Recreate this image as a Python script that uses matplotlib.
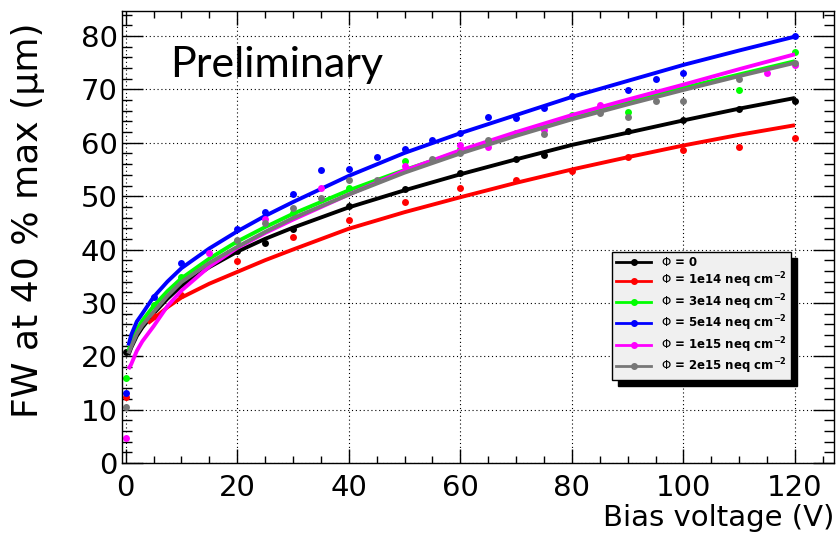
import matplotlib
matplotlib.use("Agg")
import matplotlib.pyplot as plt
from matplotlib.lines import Line2D
from matplotlib.ticker import MultipleLocator

plt.rcParams['font.family'] = ['DejaVu Sans']
plt.rcParams['mathtext.fontset'] = 'dejavusans'

# bias voltages where the fitted curves are sampled
fit_v = [0.5, 1, 2, 3, 5, 7.5, 10, 15, 20, 25, 30, 40, 50, 60, 70, 80, 90, 100, 110, 120]
red_fit_v = [4, 5, 7.5, 10, 15, 20, 25, 30, 40, 50, 60, 70, 80, 90, 100, 110, 120]

# fitted curves (FW in um)
black_fit = [20.2, 21.6, 23.8, 25.4, 28.0, 30.8, 33.2, 36.7, 39.6, 42.0, 44.1, 47.9, 51.1, 54.1, 56.9, 59.6, 61.9, 64.2, 66.4, 68.4]
red_fit = [26.2, 27.0, 29.2, 31.0, 33.6, 35.8, 38.0, 40.0, 43.9, 47.0, 49.8, 52.5, 55.0, 57.3, 59.5, 61.5, 63.3]
green_fit = [21.0, 22.6, 25.0, 26.7, 29.4, 32.2, 34.6, 38.3, 41.5, 44.2, 46.7, 51.1, 54.9, 58.4, 61.6, 64.8, 67.6, 70.3, 72.8, 75.3]
blue_fit = [22.0, 24.0, 26.5, 28.0, 31.1, 34.0, 36.5, 40.2, 43.4, 46.3, 48.9, 53.8, 58.1, 61.8, 65.2, 68.6, 71.6, 74.6, 77.3, 79.9]
magenta_fit = [17.6, 18.5, 21.0, 22.8, 25.6, 29.4, 32.3, 36.8, 40.3, 43.1, 45.6, 50.3, 54.8, 58.6, 62.0, 65.2, 68.1, 70.9, 73.8, 76.6]
gray_fit = [20.5, 21.8, 24.2, 25.8, 28.3, 31.3, 33.9, 37.5, 40.5, 43.3, 45.9, 50.3, 54.4, 58.0, 61.3, 64.4, 67.2, 69.9, 72.5, 75.0]

# measured points
black_pts_v = [0, 10, 20, 25, 30, 40, 50, 60, 70, 75, 90, 100, 110, 120]
black_pts = [20.8, 33.5, 39.8, 41.2, 43.8, 48.1, 51.3, 54.3, 57.0, 57.8, 62.3, 64.3, 66.4, 67.9]
red_pts_v = [0, 5, 10, 20, 30, 40, 50, 60, 70, 80, 90, 100, 110, 120]
red_pts = [12.4, 27.5, 31.4, 37.8, 42.4, 45.5, 48.9, 51.5, 53.1, 54.7, 57.4, 58.6, 59.2, 60.9]
green_pts_v = [0, 5, 10, 20, 30, 40, 50, 60, 70, 80, 90, 110, 120]
green_pts = [16.0, 29.6, 34.8, 41.6, 46.8, 51.5, 56.6, 58.8, 61.8, 65.3, 65.7, 69.9, 77.1]
blue_pts_v = [0, 5, 10, 20, 25, 30, 35, 40, 45, 50, 55, 60, 65, 70, 75, 80, 90, 95, 100, 120]
blue_pts = [13.1, 31.2, 37.5, 43.8, 47.0, 50.4, 54.9, 55.0, 57.4, 58.9, 60.5, 61.8, 64.9, 64.6, 66.5, 68.7, 69.9, 71.9, 73.1, 80.0]
magenta_pts_v = [0, 15, 25, 35, 50, 60, 65, 75, 85, 115, 120]
magenta_pts = [4.6, 39.3, 45.8, 51.6, 55.6, 59.5, 59.3, 62.4, 67.1, 73.1, 74.5]
gray_pts_v = [0, 20, 25, 30, 35, 40, 45, 55, 60, 65, 75, 85, 90, 95, 100, 110, 120]
gray_pts = [10.5, 41.7, 45.0, 47.7, 49.6, 53.0, 53.0, 57.0, 58.0, 60.5, 61.7, 65.6, 64.9, 67.9, 67.9, 71.9, 75.0]

labels = [r"$\Phi$ = 0",
          r"$\Phi$ = 1e14 neq cm$^{\mathbf{-2}}$",
          r"$\Phi$ = 3e14 neq cm$^{\mathbf{-2}}$",
          r"$\Phi$ = 5e14 neq cm$^{\mathbf{-2}}$",
          r"$\Phi$ = 1e15 neq cm$^{\mathbf{-2}}$",
          r"$\Phi$ = 2e15 neq cm$^{\mathbf{-2}}$"]
colors = ['black', '#ff0000', '#00ff00', '#0000ff', '#ff00ff', '#777777']

series = [
    (fit_v, black_fit, black_pts_v, black_pts),
    (red_fit_v, red_fit, red_pts_v, red_pts),
    (fit_v, green_fit, green_pts_v, green_pts),
    (fit_v, blue_fit, blue_pts_v, blue_pts),
    (fit_v, magenta_fit, magenta_pts_v, magenta_pts),
    (fit_v, gray_fit, gray_pts_v, gray_pts),
]

fig = plt.figure(figsize=(8.36, 5.34), dpi=100)
ax = fig.add_axes([122 / 836, 1 - 463 / 534, 712 / 836, 452 / 534])

for (fv, fy, pv, py), c in zip(series, colors):
    ax.plot(pv, py, 'o', color=c, ms=5, mec='none')
    ax.plot(fv, fy, '-', color=c, lw=2.8, solid_capstyle='butt')

ax.set_xlim(-0.65, 127)
ax.set_ylim(0, 84.7)
ax.xaxis.set_major_locator(MultipleLocator(20))
ax.xaxis.set_minor_locator(MultipleLocator(5))
ax.yaxis.set_major_locator(MultipleLocator(10))
ax.yaxis.set_minor_locator(MultipleLocator(2))

ax.set_axisbelow(True)
ax.grid(True, which='major', color='black', lw=0.8, ls=(0, (1, 2.5)))
ax.tick_params(which='both', direction='in', top=True, right=True, width=1, labelsize=21)
ax.tick_params(axis='x', which='major', length=10, pad=8)
ax.tick_params(axis='x', which='minor', length=5)
ax.tick_params(axis='y', which='major', length=15, pad=3)
ax.tick_params(axis='y', which='minor', length=7.5)
for s in ax.spines.values():
    s.set_linewidth(1)

fig.text(28 / 836, 1 - 22 / 534, "FW at 40 % max (\u03bcm)", rotation=90,
         ha='center', va='top', fontsize=26)
fig.text(834 / 836, 1 - 518 / 534, "Bias voltage (V)", ha='right', va='center', fontsize=21)

ax.text(170 / 836, 1 - 77 / 534, "Preliminary", transform=fig.transFigure,
        family='Lato', fontsize=31, ha='left', va='baseline')

handles = [Line2D([], [], color=c, lw=2, marker='o', ms=4) for c in colors]
leg = ax.legend(handles, labels, loc='upper left', bbox_to_anchor=(0.688, 0.467),
                prop={'weight': 'bold', 'size': 8.5}, frameon=True, fancybox=False,
                edgecolor='black', facecolor='#f0f0f0', framealpha=1,
                shadow={'ox': 4.3, 'oy': -4.3, 'color': 'black', 'alpha': 1},
                handlelength=3.0, handletextpad=0.8, labelspacing=0.15,
                borderpad=0.35, borderaxespad=0)
leg.get_frame().set_linewidth(1)

fig.savefig("out.png", dpi=100)
